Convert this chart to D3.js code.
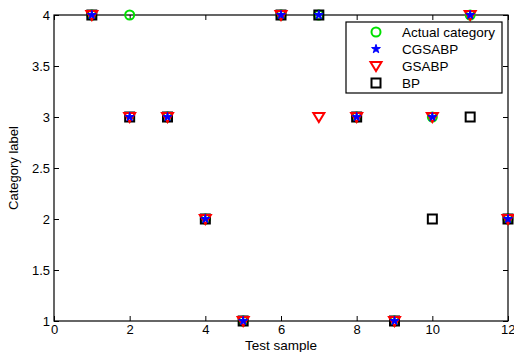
<!DOCTYPE html>
<html>
<head>
<meta charset="utf-8">
<script src="https://cdn.jsdelivr.net/npm/d3@7"></script>
<style>
  body { margin: 0; background: #fff; }
  svg { display: block; font-family: "Liberation Sans", Arial, sans-serif; }
</style>
</head>
<body>
<div id="chart"></div>
<script>
// Data
const samples = [1, 2, 3, 4, 5, 6, 7, 8, 9, 10, 11, 12];
const actual  = [4, 4, 3, 2, 1, 4, 4, 3, 1, 3, 4, 2];
const cgsabp  = [4, 3, 3, 2, 1, 4, 4, 3, 1, 3, 4, 2];
const gsabp   = [4, 3, 3, 2, 1, 4, 3, 3, 1, 3, 4, 2];
const bp      = [4, 3, 3, 2, 1, 4, 4, 3, 1, 2, 3, 2];
const xTicks = [0, 2, 4, 6, 8, 10, 12];
const yTicks = [1, 1.5, 2, 2.5, 3, 3.5, 4];
const legendNames = ['Actual category', 'CGSABP', 'GSABP', 'BP'];

const W = 514, H = 352;
const m = { left: 54, right: 6, top: 15, bottom: 31 };
const fmt = d3.format('~g');

const svg = d3.select('#chart').append('svg')
    .attr('width', W).attr('height', H);

const x = d3.scaleLinear().domain([0, 12]).range([m.left, W - m.right]);
const y = d3.scaleLinear().domain([1, 4]).range([H - m.bottom, m.top]);

// axes with inward ticks, MATLAB style box
function styleAxis(g) {
    g.select('.domain').remove();
    g.selectAll('line').attr('stroke', '#000').attr('stroke-width', 1);
    g.selectAll('text').attr('font-size', 13).attr('fill', '#000');
}
const xAxisG = svg.append('g').attr('transform', `translate(0,${H - m.bottom})`)
    .call(d3.axisBottom(x).tickValues(xTicks).tickSizeInner(-5).tickSizeOuter(0).tickPadding(4).tickFormat(fmt))
    .call(styleAxis);
// last label sits at the window edge, keep it inside
xAxisG.selectAll('.tick').filter(d => d === 12).select('text')
    .attr('text-anchor', 'end').attr('dx', 7);
svg.append('g').attr('transform', `translate(0,${m.top})`)
    .call(d3.axisTop(x).tickValues(xTicks).tickSizeInner(-5).tickSizeOuter(0).tickFormat(''))
    .call(styleAxis);
svg.append('g').attr('transform', `translate(${m.left},0)`)
    .call(d3.axisLeft(y).tickValues(yTicks).tickSizeInner(-5).tickSizeOuter(0).tickPadding(4).tickFormat(fmt))
    .call(styleAxis);
svg.append('g').attr('transform', `translate(${W - m.right},0)`)
    .call(d3.axisRight(y).tickValues(yTicks).tickSizeInner(-5).tickSizeOuter(0).tickFormat(''))
    .call(styleAxis);

svg.append('rect')
    .attr('x', m.left).attr('y', m.top)
    .attr('width', W - m.left - m.right).attr('height', H - m.top - m.bottom)
    .attr('fill', 'none').attr('stroke', '#000').attr('stroke-width', 1.2);

// marker painters
const markers = {
    circle: g => g.append('circle').attr('r', 4.5)
        .attr('fill', 'none').attr('stroke', '#00e000').attr('stroke-width', 2),
    square: g => g.append('rect').attr('x', -4.5).attr('y', -4.5).attr('width', 9).attr('height', 9)
        .attr('fill', 'none').attr('stroke', '#000').attr('stroke-width', 2),
    triangle: g => g.append('path').attr('d', 'M-5.5,-4 L5.5,-4 L0,5 Z')
        .attr('fill', 'none').attr('stroke', '#ff0000').attr('stroke-width', 2),
    star: g => g.append('path').attr('d', d3.symbol(d3.symbolStar, 24)())
        .attr('fill', '#0000ff').attr('stroke', '#0000ff').attr('stroke-width', 1)
};

const series = [
    { vals: actual, mk: 'circle' },
    { vals: bp, mk: 'square' },
    { vals: gsabp, mk: 'triangle' },
    { vals: cgsabp, mk: 'star' }
];

const plot = svg.append('g');
series.forEach(s => {
    plot.selectAll(null).data(samples).enter().append('g')
        .attr('transform', (d, i) => `translate(${x(d)},${y(s.vals[i])})`)
        .each(function() { markers[s.mk](d3.select(this)); });
});

// legend
const lg = svg.append('g').attr('transform', 'translate(346,22)');
lg.append('rect').attr('width', 156).attr('height', 71)
    .attr('fill', '#fff').attr('stroke', '#000').attr('stroke-width', 1.2);
const legendMk = ['circle', 'star', 'triangle', 'square'];
legendNames.forEach((name, i) => {
    const row = lg.append('g').attr('transform', `translate(30,${10 + i * 17})`);
    markers[legendMk[i]](row);
    row.append('text').attr('x', 26).attr('y', 5)
        .attr('font-size', 13.5).attr('fill', '#000').text(name);
});

// axis titles
svg.append('text').attr('x', (m.left + W - m.right) / 2).attr('y', 350)
    .attr('text-anchor', 'middle').attr('font-size', 13.5).text('Test sample');
svg.append('text').attr('transform', `translate(18,${(m.top + H - m.bottom) / 2}) rotate(-90)`)
    .attr('text-anchor', 'middle').attr('font-size', 13).text('Category label');
</script>
</body>
</html>
